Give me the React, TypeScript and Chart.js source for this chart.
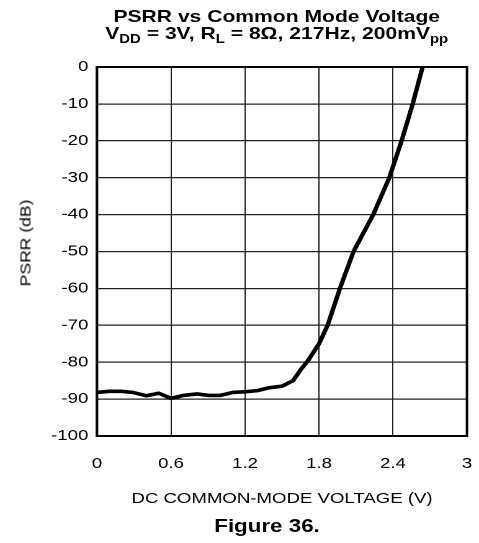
import React, { useEffect, useRef } from "react";
import { Chart, registerables } from "chart.js";

Chart.register(...registerables);

// ---- data ----
const voltage = [0, 0.1, 0.2, 0.29, 0.4, 0.5, 0.6, 0.7, 0.81, 0.91, 1.0, 1.1, 1.21, 1.3, 1.4, 1.5, 1.59, 1.65, 1.71, 1.8, 1.87, 1.97, 2.08, 2.24, 2.37, 2.47, 2.56, 2.64];
const psrr = [-88.2, -87.9, -87.9, -88.2, -89.1, -88.4, -89.8, -89.0, -88.6, -89.0, -89.0, -88.2, -88.0, -87.7, -86.9, -86.5, -85.0, -82.1, -79.6, -75.0, -70.0, -60.0, -50.0, -40.0, -30.0, -20.0, -10.0, 0];
const xTickLabels = ["0", "0.6", "1.2", "1.8", "2.4", "3"];
const yTickLabels = ["-100", "-90", "-80", "-70", "-60", "-50", "-40", "-30", "-20", "-10", "0"];

const FONT = "'Liberation Sans', Arial, Helvetica, sans-serif";
const W = 386;
const H = 543;
const S = 479 / W; // horizontal extension of the reference's text

const frameBorder = {
  id: "frameBorder",
  afterDatasetsDraw(chart: any) {
    const { ctx, chartArea } = chart;
    ctx.save();
    ctx.strokeStyle = "#000";
    ctx.lineWidth = 2;
    ctx.strokeRect(chartArea.left, chartArea.top, chartArea.right - chartArea.left, chartArea.bottom - chartArea.top);
    ctx.restore();
  },
};

export default function App() {
  const ref = useRef<HTMLCanvasElement | null>(null);

  useEffect(() => {
    if (!ref.current) return;
    const chart = new Chart(ref.current, {
      type: "line",
      data: {
        datasets: [
          {
            data: voltage.map((v, i) => ({ x: v, y: psrr[i] })),
            borderColor: "#000",
            borderWidth: 3.6,
            borderJoinStyle: "round",
            pointRadius: 0,
            tension: 0,
            fill: false,
          },
        ],
      },
      options: {
        animation: false,
        responsive: false,
        devicePixelRatio: 2,
        events: [],
        layout: { padding: { top: 67, right: 9.7, left: 0, bottom: 0 } },
        plugins: {
          legend: { display: false },
          tooltip: { enabled: false },
          title: { display: false },
        },
        scales: {
          x: {
            type: "linear",
            min: 0,
            max: 3,
            afterFit: (s: any) => {
              s.height = 107;
            },
            ticks: {
              stepSize: 0.6,
              padding: 0,
              color: "#000",
              maxRotation: 0,
              autoSkip: false,
              font: { family: FONT, size: 15 },
              callback: (_v: any, i: number) => xTickLabels[i],
            },
            grid: {
              color: "#222",
              lineWidth: 1,
              drawTicks: true,
              tickLength: 19,
              tickColor: "rgba(0,0,0,0)",
            },
            border: { display: true, color: "#000", width: 2 },
            title: {
              display: true,
              text: "DC COMMON-MODE VOLTAGE (V)",
              color: "#000",
              font: { family: FONT, size: 15 },
              padding: { top: 0, bottom: 35 },
            },
          },
          y: {
            type: "linear",
            min: -100,
            max: 0,
            afterFit: (s: any) => {
              s.width = 78.2;
            },
            ticks: {
              stepSize: 10,
              padding: 7,
              color: "#000",
              font: { family: FONT, size: 15 },
              callback: (_v: any, i: number) => yTickLabels[i],
            },
            grid: { color: "#222", lineWidth: 1.2, drawTicks: false },
            border: { display: true, color: "#000", width: 2 },
            title: { display: false },
          },
        },
      },
      plugins: [frameBorder],
    });
    return () => chart.destroy();
  }, []);

  const subStyle: React.CSSProperties = { fontSize: 12, position: "relative", top: 4 };

  return (
    <>
      <div
        style={{
          position: "absolute",
          left: 0,
          top: 0,
          width: W,
          height: H,
          transform: `scaleX(${S})`,
          transformOrigin: "0 0",
          fontFamily: FONT,
          color: "#000",
        }}
      >
        <div
          style={{
            position: "absolute",
            left: 23,
            top: 8,
            width: 400,
            textAlign: "center",
            fontWeight: "bold",
            fontSize: 17,
            lineHeight: "17px",
            whiteSpace: "nowrap",
          }}
        >
          PSRR vs Common Mode Voltage
        </div>
        <div
          style={{
            position: "absolute",
            left: 23,
            top: 24.5,
            width: 400,
            textAlign: "center",
            fontWeight: "bold",
            fontSize: 17,
            lineHeight: "17px",
            whiteSpace: "nowrap",
          }}
        >
          V<span style={subStyle}>DD</span> = 3V, R<span style={subStyle}>L</span> = 8Ω, 217Hz, 200mV
          <span style={subStyle}>pp</span>
        </div>
        <canvas ref={ref} width={W} height={H} style={{ position: "absolute", left: 0, top: 0 }} />
        <div
          style={{
            position: "absolute",
            left: 115.2,
            top: 517,
            width: 200,
            textAlign: "center",
            fontWeight: "bold",
            fontSize: 18,
            lineHeight: "18px",
            whiteSpace: "nowrap",
          }}
        >
          Figure 36.
        </div>
      </div>
      <div style={{ position: "absolute", left: 25, top: 243, width: 0, height: 0, fontFamily: FONT }}>
        <span
          style={{
            position: "absolute",
            left: 0,
            top: 0,
            fontSize: 15,
            lineHeight: "15px",
            whiteSpace: "nowrap",
            transform: "translate(-50%, -50%) rotate(-90deg) scaleX(1.17)",
          }}
        >
          PSRR (dB)
        </span>
      </div>
    </>
  );
}
